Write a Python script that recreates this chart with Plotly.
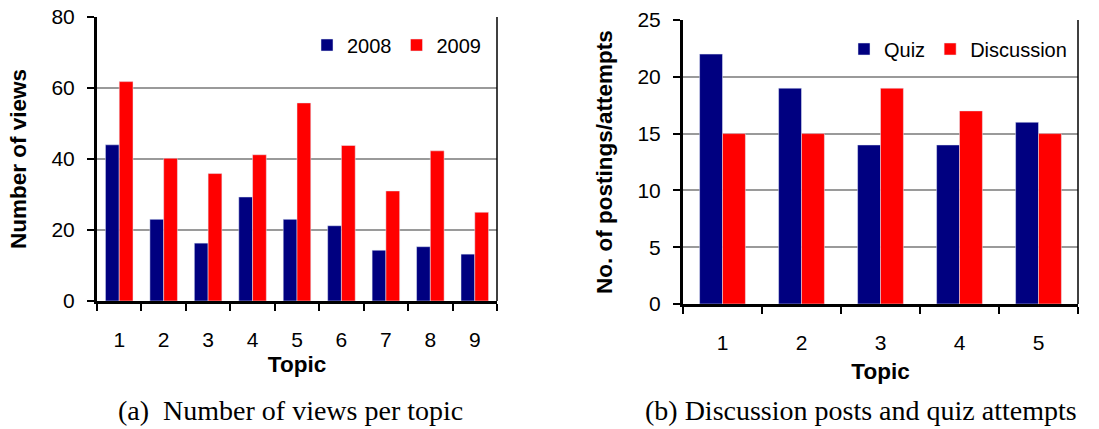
import plotly.graph_objects as go

# ---- data ----
topics_a = ["1", "2", "3", "4", "5", "6", "7", "8", "9"]
views_2008 = [44, 23, 16.3, 29.3, 23, 21.2, 14.3, 15.3, 13.2]
views_2009 = [61.8, 40.2, 35.9, 41.2, 55.8, 43.8, 31, 42.3, 25]

topics_b = ["1", "2", "3", "4", "5"]
quiz = [22, 19, 14, 14, 16]
discussion = [15, 15, 19, 17, 15]

NAVY = "#000080"
RED = "#FF0000"
SANS = "Liberation Sans, Arial, sans-serif"
SERIF = "Liberation Serif, Times New Roman, serif"

W, H = 1099, 429

def px(x):
    return x / W

def py(y):
    return 1 - y / H

fig = go.Figure()

wa = 0.31
fig.add_trace(go.Bar(x=topics_a, y=views_2008, name="2008", marker_color=NAVY,
                     width=wa, offset=-wa, xaxis="x", yaxis="y", legend="legend"))
fig.add_trace(go.Bar(x=topics_a, y=views_2009, name="2009", marker_color=RED,
                     width=wa, offset=0, xaxis="x", yaxis="y", legend="legend"))

wb = 0.29
fig.add_trace(go.Bar(x=topics_b, y=quiz, name="Quiz", marker_color=NAVY,
                     width=wb, offset=-wb, xaxis="x2", yaxis="y2", legend="legend2"))
fig.add_trace(go.Bar(x=topics_b, y=discussion, name="Discussion", marker_color=RED,
                     width=wb, offset=0, xaxis="x2", yaxis="y2", legend="legend2"))

tickfont = dict(family=SANS, size=21, color="black")
titlefont = dict(family=SANS, size=22.5, color="black", weight="bold")

def xax(domain, anchor, tstand):
    return dict(domain=domain, anchor=anchor, type="category", tickson="boundaries",
                ticks="outside", ticklen=7, tickwidth=1.5, tickcolor="black",
                showline=True, linewidth=3, linecolor="black", showgrid=False,
                tickfont=tickfont, ticklabelstandoff=18, automargin=False,
                ticklabeloverflow="allow",
                title=dict(text="Topic", font=titlefont, standoff=tstand))

def yax(domain, anchor, rng, dtick, title, standoff):
    return dict(domain=domain, anchor=anchor, range=rng, dtick=dtick,
                ticks="outside", ticklen=7, tickwidth=1.5, tickcolor="black",
                showline=True, linewidth=3, linecolor="black",
                showgrid=True, gridcolor="#9a9a9a", gridwidth=1.5,
                zeroline=False, tickfont=tickfont, ticklabelstandoff=8,
                automargin=False, ticklabeloverflow="allow",
                title=dict(text=title, font=titlefont, standoff=standoff))

fig.update_layout(
    width=W, height=H,
    margin=dict(l=0, r=0, t=0, b=0),
    paper_bgcolor="white", plot_bgcolor="white",
    barmode="group",
    showlegend=True,
    xaxis=xax([px(97), px(497)], "y", 7),
    yaxis=yax([py(301), py(17)], "x", [0, 80], 20, "Number of views", 19),
    xaxis2=xax([px(683), px(1078)], "y2", 11),
    yaxis2=yax([py(304), py(20)], "x2", [0, 25], 5, "No. of postings/attempts", 19),
    legend=dict(orientation="h", x=px(486), xanchor="right", y=py(45), yanchor="middle",
                font=dict(family=SANS, size=20, color="black"), bgcolor="rgba(0,0,0,0)"),
    legend2=dict(orientation="h", x=px(1072), xanchor="right", y=py(49), yanchor="middle",
                 font=dict(family=SANS, size=20, color="black"), bgcolor="rgba(0,0,0,0)"),
    annotations=[
        dict(text="(a)  Number of views per topic", x=px(291), y=py(410),
             xref="paper", yref="paper", showarrow=False, xanchor="center", yanchor="middle",
             font=dict(family=SERIF, size=28, color="black")),
        dict(text="(b) Discussion posts and quiz attempts", x=px(861), y=py(410),
             xref="paper", yref="paper", showarrow=False, xanchor="center", yanchor="middle",
             font=dict(family=SERIF, size=28, color="black")),
    ],
    shapes=[
        dict(type="line", xref="x domain", yref="y domain", x0=1, x1=1, y0=0, y1=1,
             line=dict(color="black", width=1.5)),
        dict(type="line", xref="x2 domain", yref="y2 domain", x0=1, x1=1, y0=0, y1=1,
             line=dict(color="black", width=1.5)),
    ],
)

fig.write_html("out.html",
               config={"displayModeBar": False},
               post_script="document.body.style.margin='0';document.body.style.overflow='hidden';")
